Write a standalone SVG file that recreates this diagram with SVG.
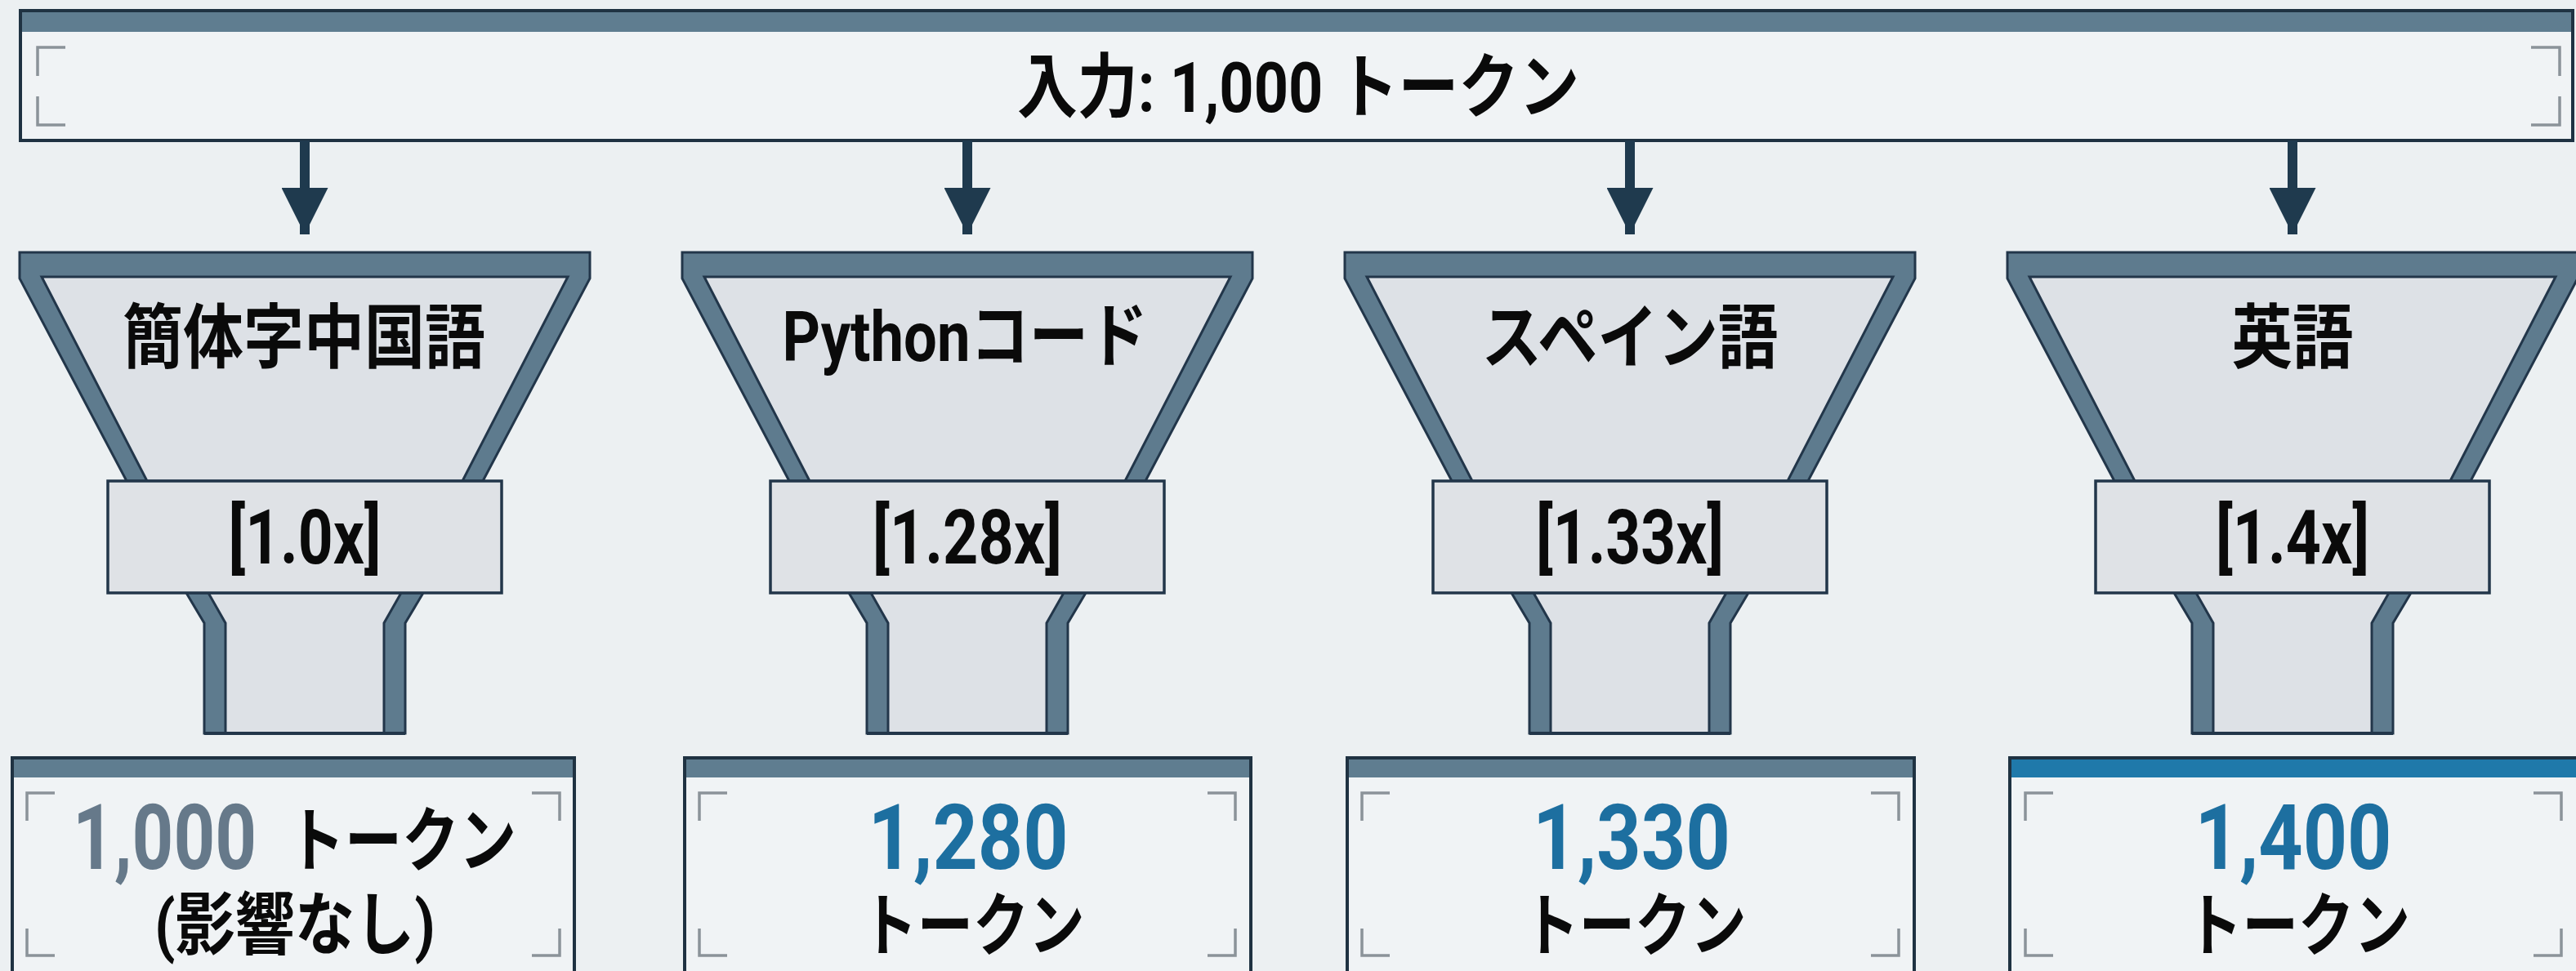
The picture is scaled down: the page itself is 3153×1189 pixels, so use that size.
<svg xmlns="http://www.w3.org/2000/svg" width="3153" height="1189" viewBox="0 0 3153 1189">
<defs>
<style>
.bg{fill:#ecf0f2}
.panel{fill:#f0f3f5;stroke:#1f3242;stroke-width:4}
.hdr{fill:#5f7d90}
.hdrb{fill:#1f79aa}
.brk{fill:none;stroke:#8b9399;stroke-width:3.5}
.band{fill:#5e7b8e;stroke:#22364a;stroke-width:3;stroke-linejoin:miter}
.inner{fill:#dde1e6;stroke:#22364a;stroke-width:3}
.lbl{fill:#dfe2e6;stroke:#22364a;stroke-width:3.5}
.t{font-family:"Roboto","Noto Sans CJK JP",sans-serif;font-weight:700;fill:#0a0a0a}
.c{text-anchor:middle}
.blue{fill:#1d6fa0}
.gray{fill:#66798a}
.conn{stroke:#1f3a4e;stroke-width:12;fill:none}
</style>
<marker id="ah" viewBox="0 0 10 10" refX="10" refY="5" markerUnits="userSpaceOnUse" markerWidth="57" markerHeight="57" orient="auto">
<path d="M0,0 L10,5 L0,10 z" fill="#1f3a4e"/>
</marker>
<g id="funnelShape">
<polygon class="band" points="-349,309 349,309 349,341 218,589 -218,589 -349,341"/>
<polygon class="inner" points="-322,339 322,339 193,589 -193,589"/>
<polygon class="band" points="-145,726 145,726 123,763 123,898 -123,898 -123,763"/>
<polygon class="inner" points="-118,726 118,726 97,763 97,898 -97,898 -97,763"/>
<line x1="-123" y1="898" x2="123" y2="898" stroke="#22364a" stroke-width="4"/>
<rect class="lbl" x="-241" y="589" width="482" height="137"/>
</g>
</defs>
<rect class="bg" x="0" y="0" width="3153" height="1189"/>

<g id="input">
<rect class="panel" x="25" y="13" width="3124" height="159"/>
<rect class="hdr" x="27" y="15" width="3120" height="24"/>
<path class="brk" d="M80,58 H46 V93 M46,118 V153 H80 M3098,58 H3133 V93 M3133,118 V153 H3098"/>
<text class="t c" x="1589" y="137" font-size="86" textLength="688" lengthAdjust="spacingAndGlyphs">入力: 1,000 トークン</text>
</g>

<g id="connectors">
<line class="conn" x1="373" y1="172" x2="373" y2="287" marker-end="url(#ah)"/>
<line class="conn" x1="1184" y1="172" x2="1184" y2="287" marker-end="url(#ah)"/>
<line class="conn" x1="1995" y1="172" x2="1995" y2="287" marker-end="url(#ah)"/>
<line class="conn" x1="2806" y1="172" x2="2806" y2="287" marker-end="url(#ah)"/>
</g>

<g id="funnel-zh">
<use href="#funnelShape" transform="translate(373,0)"/>
<text class="t c" x="372" y="444" font-size="86" textLength="444" lengthAdjust="spacingAndGlyphs">簡体字中国語</text>
<text class="t c" x="373" y="690" font-size="92" textLength="187" lengthAdjust="spacingAndGlyphs">[1.0x]</text>
</g>
<g id="funnel-py">
<use href="#funnelShape" transform="translate(1184,0)"/>
<text class="t c" x="1181" y="442" font-size="86" textLength="447" lengthAdjust="spacingAndGlyphs">Pythonコード</text>
<text class="t c" x="1184" y="690" font-size="92" textLength="232" lengthAdjust="spacingAndGlyphs">[1.28x]</text>
</g>
<g id="funnel-es">
<use href="#funnelShape" transform="translate(1995,0)"/>
<text class="t c" x="1995" y="444" font-size="86" textLength="363" lengthAdjust="spacingAndGlyphs">スペイン語</text>
<text class="t c" x="1995" y="690" font-size="92" textLength="230" lengthAdjust="spacingAndGlyphs">[1.33x]</text>
</g>
<g id="funnel-en">
<use href="#funnelShape" transform="translate(2806,0)"/>
<text class="t c" x="2806" y="444" font-size="86" textLength="149" lengthAdjust="spacingAndGlyphs">英語</text>
<text class="t c" x="2806" y="690" font-size="92" textLength="188" lengthAdjust="spacingAndGlyphs">[1.4x]</text>
</g>

<g id="out-zh">
<rect class="panel" x="15" y="928" width="688" height="270"/>
<rect class="hdr" x="17" y="930" width="684" height="22"/>
<path class="brk" d="M67,971 H33 V1005 M33,1137 V1170 H67 M651,971 H685 V1005 M685,1137 V1170 H651"/>
<text class="t gray" x="89" y="1064" font-size="112" textLength="225" lengthAdjust="spacingAndGlyphs">1,000</text>
<text class="t" x="352" y="1060" font-size="86" textLength="280" lengthAdjust="spacingAndGlyphs">トークン</text>
<text class="t" x="189" y="1162" font-size="84" textLength="344" lengthAdjust="spacingAndGlyphs">(影響なし)</text>
</g>
<g id="out-py">
<rect class="panel" x="838" y="928" width="693" height="270"/>
<rect class="hdr" x="840" y="930" width="689" height="22"/>
<path class="brk" d="M890,971 H856 V1005 M856,1137 V1170 H890 M1478,971 H1512 V1005 M1512,1137 V1170 H1478"/>
<text class="t c blue" x="1185" y="1064" font-size="112" textLength="245" lengthAdjust="spacingAndGlyphs">1,280</text>
<text class="t c" x="1191" y="1163" font-size="84" textLength="273" lengthAdjust="spacingAndGlyphs">トークン</text>
</g>
<g id="out-es">
<rect class="panel" x="1649" y="928" width="694" height="270"/>
<rect class="hdr" x="1651" y="930" width="690" height="22"/>
<path class="brk" d="M1701,971 H1667 V1005 M1667,1137 V1170 H1701 M2290,971 H2324 V1005 M2324,1137 V1170 H2290"/>
<text class="t c blue" x="1997" y="1064" font-size="112" textLength="242" lengthAdjust="spacingAndGlyphs">1,330</text>
<text class="t c" x="2001" y="1163" font-size="84" textLength="273" lengthAdjust="spacingAndGlyphs">トークン</text>
</g>
<g id="out-en">
<rect class="panel" x="2460" y="928" width="700" height="270"/>
<rect class="hdrb" x="2462" y="930" width="696" height="22"/>
<path class="brk" d="M2513,971 H2479 V1005 M2479,1137 V1170 H2513 M3101,971 H3135 V1005 M3135,1137 V1170 H3101"/>
<text class="t c blue" x="2807" y="1064" font-size="112" textLength="241" lengthAdjust="spacingAndGlyphs">1,400</text>
<text class="t c" x="2813" y="1163" font-size="84" textLength="274" lengthAdjust="spacingAndGlyphs">トークン</text>
</g>
</svg>
